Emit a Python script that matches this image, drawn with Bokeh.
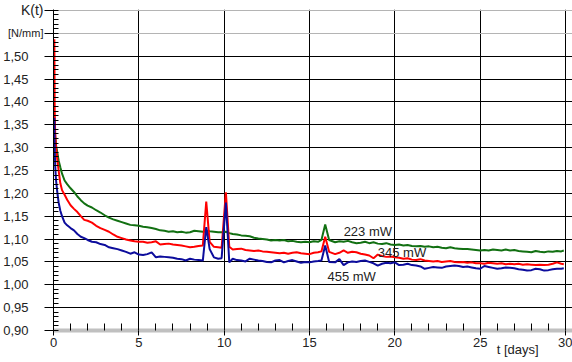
from bokeh.plotting import figure
from bokeh.models import (Range1d, FixedTicker, CustomJSTickFormatter, Grid, LinearAxis)
from bokeh.core.properties import value
from bokeh.embed import file_html
from bokeh.resources import INLINE

# ---------------- data ----------------
t_days = [
    0.05, 0.07, 0.1, 0.15, 0.22, 0.3, 0.4, 0.5, 0.65, 0.8, 1.0, 1.2, 1.4, 1.6, 1.8, 2.0,
    2.25, 2.5, 2.75, 3.0, 3.25, 3.5, 3.75, 4.0, 4.25, 4.5, 4.75, 5.0, 5.25, 5.5, 5.75,
    6.0, 6.25, 6.5, 6.75, 7.0, 7.25, 7.5, 7.75, 8.0, 8.25, 8.5,
    8.75, 8.95, 9.15, 9.4, 9.65, 9.85, 10.1, 10.3, 10.5, 10.75, 11.0,
    11.25, 11.5, 11.75, 12.0, 12.25, 12.5, 12.75, 13.0, 13.25, 13.5, 13.75, 14.0,
    14.25, 14.5, 14.75, 15.0, 15.25, 15.5,
    15.7, 15.92, 16.15,
    16.5, 16.75, 17.0, 17.25, 17.5, 17.75, 18.0, 18.25, 18.5, 18.75,
    19.0, 19.25, 19.5, 19.75, 20.0, 20.25, 20.5, 20.75, 21.0, 21.25,
    21.5, 21.75, 22.0, 22.25, 22.5, 22.75, 23.0, 23.25, 23.5, 23.75,
    24.0, 24.25, 24.5, 24.75, 25.0, 25.25, 25.5, 25.75, 26.0, 26.25,
    26.5, 26.75, 27.0, 27.25, 27.5, 27.75, 28.0, 28.25, 28.5, 28.75,
    29.0, 29.25, 29.5, 29.75, 29.9,
]

k_223 = [
    1.360, 1.345, 1.325, 1.305, 1.290, 1.272, 1.257, 1.243, 1.228, 1.220, 1.211, 1.203, 1.193, 1.185, 1.178, 1.173,
    1.169, 1.163, 1.158, 1.152, 1.147, 1.143, 1.140, 1.137, 1.134, 1.131, 1.130, 1.129, 1.127, 1.126, 1.124,
    1.122, 1.119, 1.118, 1.116, 1.117, 1.115, 1.116, 1.114, 1.115, 1.118, 1.117,
    1.116, 1.118, 1.117, 1.116, 1.115, 1.115, 1.116, 1.113, 1.111, 1.110, 1.108,
    1.107, 1.106, 1.103, 1.101, 1.100, 1.099, 1.097, 1.098, 1.097, 1.098, 1.095, 1.096,
    1.094, 1.093, 1.094, 1.093, 1.095, 1.094,
    1.098, 1.132, 1.098,
    1.093, 1.095, 1.094, 1.096, 1.093, 1.091, 1.092, 1.094, 1.091, 1.093,
    1.090, 1.089, 1.091, 1.088, 1.087, 1.088, 1.086, 1.087, 1.085, 1.084,
    1.085, 1.083, 1.084, 1.082, 1.083, 1.081, 1.080, 1.082, 1.080, 1.079,
    1.078, 1.078, 1.077, 1.076, 1.075, 1.076, 1.075, 1.077, 1.076, 1.075,
    1.077, 1.075, 1.076, 1.074, 1.073, 1.072, 1.071, 1.074, 1.072, 1.071,
    1.073, 1.072, 1.074, 1.073, 1.075,
]

k_345 = [
    1.537, 1.380, 1.330, 1.300, 1.275, 1.250, 1.222, 1.207, 1.197, 1.186, 1.174, 1.166, 1.159, 1.150, 1.142, 1.140,
    1.136, 1.129, 1.124, 1.120, 1.116, 1.110, 1.105, 1.102, 1.099, 1.097, 1.095, 1.094, 1.094, 1.092, 1.093,
    1.095, 1.088, 1.089, 1.090, 1.088, 1.087, 1.086, 1.084, 1.082, 1.083, 1.085,
    1.086, 1.182, 1.094, 1.083, 1.082, 1.081, 1.202, 1.083, 1.077, 1.078, 1.079,
    1.076, 1.075, 1.074, 1.075, 1.073, 1.072, 1.071, 1.070, 1.069, 1.070, 1.068, 1.070,
    1.071, 1.069, 1.068, 1.067, 1.070, 1.071,
    1.073, 1.105, 1.072,
    1.067, 1.070, 1.075, 1.070, 1.072, 1.071, 1.068, 1.066, 1.064, 1.058,
    1.066, 1.063, 1.061, 1.062, 1.060, 1.059, 1.057, 1.058, 1.055, 1.054,
    1.056, 1.053, 1.052, 1.051, 1.052, 1.050, 1.051, 1.052, 1.050, 1.049,
    1.050, 1.048, 1.049, 1.047, 1.047, 1.046, 1.048, 1.047, 1.046, 1.047,
    1.045, 1.046, 1.045, 1.046, 1.044, 1.045, 1.044, 1.043, 1.044, 1.043,
    1.044, 1.046, 1.049, 1.046, 1.045,
]

k_455 = [
    1.365, 1.300, 1.260, 1.228, 1.203, 1.180, 1.162, 1.150, 1.136, 1.130, 1.124, 1.119, 1.111, 1.105, 1.102, 1.098,
    1.094, 1.093, 1.089, 1.087, 1.082, 1.080, 1.078, 1.075, 1.072, 1.068, 1.071, 1.066, 1.065, 1.067, 1.071,
    1.060, 1.062, 1.061, 1.060, 1.059, 1.057, 1.056, 1.053, 1.057, 1.055, 1.054,
    1.053, 1.126, 1.078, 1.060, 1.057, 1.058, 1.180, 1.049, 1.057, 1.054, 1.053,
    1.051, 1.057, 1.055, 1.053, 1.052, 1.050, 1.049, 1.053, 1.054, 1.049, 1.052, 1.054,
    1.051, 1.048, 1.050, 1.049, 1.051, 1.052,
    1.053, 1.086, 1.050,
    1.049, 1.056, 1.043, 1.049, 1.051, 1.050, 1.052, 1.053, 1.050, 1.047,
    1.042, 1.046, 1.048, 1.047, 1.049, 1.043, 1.044, 1.046, 1.043, 1.042,
    1.040, 1.035, 1.037, 1.039, 1.038, 1.037, 1.040, 1.041, 1.042, 1.041,
    1.039, 1.040, 1.038, 1.036, 1.035, 1.041, 1.039, 1.037, 1.035, 1.036,
    1.038, 1.037, 1.036, 1.034, 1.033, 1.031, 1.032, 1.035, 1.034, 1.031,
    1.032, 1.034, 1.035, 1.035, 1.036,
]

series_names = ["223 mW", "345 mW", "455 mW"]

x_ticks = [0, 5, 10, 15, 20, 25, 30]
x_tick_labels = ["0", "5", "10", "15", "20", "25", "30"]
y_ticks = [0.90, 0.95, 1.00, 1.05, 1.10, 1.15, 1.20, 1.25, 1.30, 1.35, 1.40, 1.45, 1.50, 1.55, 1.60]
y_tick_labels = ["0,90", "0,95", "1,00", "1,05", "1,10", "1,15", "1,20", "1,25",
                 "1,30", "1,35", "1,40", "1,45", "1,50", "[N/mm]", "K(t)"]
x_title = "t [days]"
x_title_at = 27.2

assert len(t_days) == len(k_223) == len(k_345) == len(k_455)

# ---------------- styling ----------------
FONT = "Liberation Sans"
TXT = "#222222"
colors = ["#127012", "#ff0000", "#0c0c9c"]
label_pos = [(17.0, 1.116), (19.0, 1.071), (16.05, 1.019)]

LOOKUP = """
for (let i = 0; i < vt.length; i++) {
    if (Math.abs(vt[i] - tick) < 1e-6) return vl[i];
}
return "";
"""


def fmt(ticks, labels):
    return CustomJSTickFormatter(args=dict(vt=list(ticks), vl=list(labels)), code=LOOKUP)


def label_only(axis, size, standoff):
    axis.axis_line_color = None
    axis.major_tick_line_color = None
    axis.minor_tick_line_color = None
    axis.major_tick_in = 0
    axis.major_tick_out = 0
    axis.minor_tick_in = 0
    axis.minor_tick_out = 0
    axis.major_label_standoff = standoff
    axis.major_label_text_font = FONT
    axis.major_label_text_font_size = size
    axis.major_label_text_color = TXT


p = figure(width=572, height=362, output_backend="svg", toolbar_location=None,
           x_range=Range1d(0, 30.41), y_range=Range1d(0.90, 1.602),
           min_border_left=52, min_border_right=0, min_border_top=9,
           min_border_bottom=32, title=None)
p.outline_line_color = None
p.background_fill_color = "white"
p.border_fill_color = "white"

# --- left side: main axis (line, ticks, "K(t)"), then "[N/mm]", then the numbers
yax = p.yaxis[0]
yax.ticker = FixedTicker(ticks=y_ticks,
                         minor_ticks=[round(0.90 + 0.01 * i, 2) for i in range(71)])
yax.formatter = fmt(y_ticks[-1:], y_tick_labels[-1:])
yax.axis_line_color = "black"
yax.major_tick_line_color = "black"
yax.minor_tick_line_color = "black"
yax.major_tick_in = 0
yax.major_tick_out = 9
yax.minor_tick_in = 5
yax.minor_tick_out = 0
yax.major_label_standoff = 1
yax.major_label_text_font = FONT
yax.major_label_text_font_size = "14px"
yax.major_label_text_color = TXT

unit_axis = LinearAxis(ticker=FixedTicker(ticks=y_ticks[-2:-1], minor_ticks=[]),
                       formatter=fmt(y_ticks[-2:-1], y_tick_labels[-2:-1]))
label_only(unit_axis, "11px", -26)
p.add_layout(unit_axis, "left")

num_axis = LinearAxis(ticker=FixedTicker(ticks=y_ticks[:13], minor_ticks=[]),
                      formatter=fmt(y_ticks[:13], y_tick_labels[:13]))
label_only(num_axis, "13px", -23)
p.add_layout(num_axis, "left")

# --- bottom: main x axis with ticks and numbers, then the axis title
xax = p.xaxis[0]
xax.ticker = FixedTicker(ticks=x_ticks, minor_ticks=list(range(0, 31)))
xax.formatter = fmt(x_ticks, x_tick_labels)
xax.axis_line_color = "#c0c0c0"
xax.axis_line_width = 4
xax.major_tick_line_color = "black"
xax.minor_tick_line_color = "black"
xax.major_tick_in = 0
xax.major_tick_out = 5
xax.minor_tick_in = 7
xax.minor_tick_out = 0
xax.major_label_standoff = 2
xax.major_label_text_font = FONT
xax.major_label_text_font_size = "13px"
xax.major_label_text_color = TXT

title_axis = LinearAxis(ticker=FixedTicker(ticks=[x_title_at], minor_ticks=[]),
                        formatter=fmt([x_title_at], [x_title]))
label_only(title_axis, "13px", -8)
p.add_layout(title_axis, "below")

# grids
p.xgrid.ticker = FixedTicker(ticks=x_ticks[1:])
p.xgrid.grid_line_color = "black"
p.ygrid.ticker = FixedTicker(ticks=y_ticks[1:13])
p.ygrid.grid_line_color = "black"
grey_grid = Grid(dimension=1, ticker=FixedTicker(ticks=y_ticks[13:]),
                 grid_line_color="#b4b4b4")
p.add_layout(grey_grid)

# lines
for ys, c in zip([k_223, k_345, k_455], colors):
    p.line(t_days, ys, line_color=c, line_width=2)

# series labels
p.text(x=[xy[0] for xy in label_pos], y=[xy[1] for xy in label_pos], text=series_names,
       text_font=value(FONT), text_font_size="13px", text_color=TXT,
       text_align="left", text_baseline="middle")

open("out.html", "w").write(file_html(p, INLINE))
